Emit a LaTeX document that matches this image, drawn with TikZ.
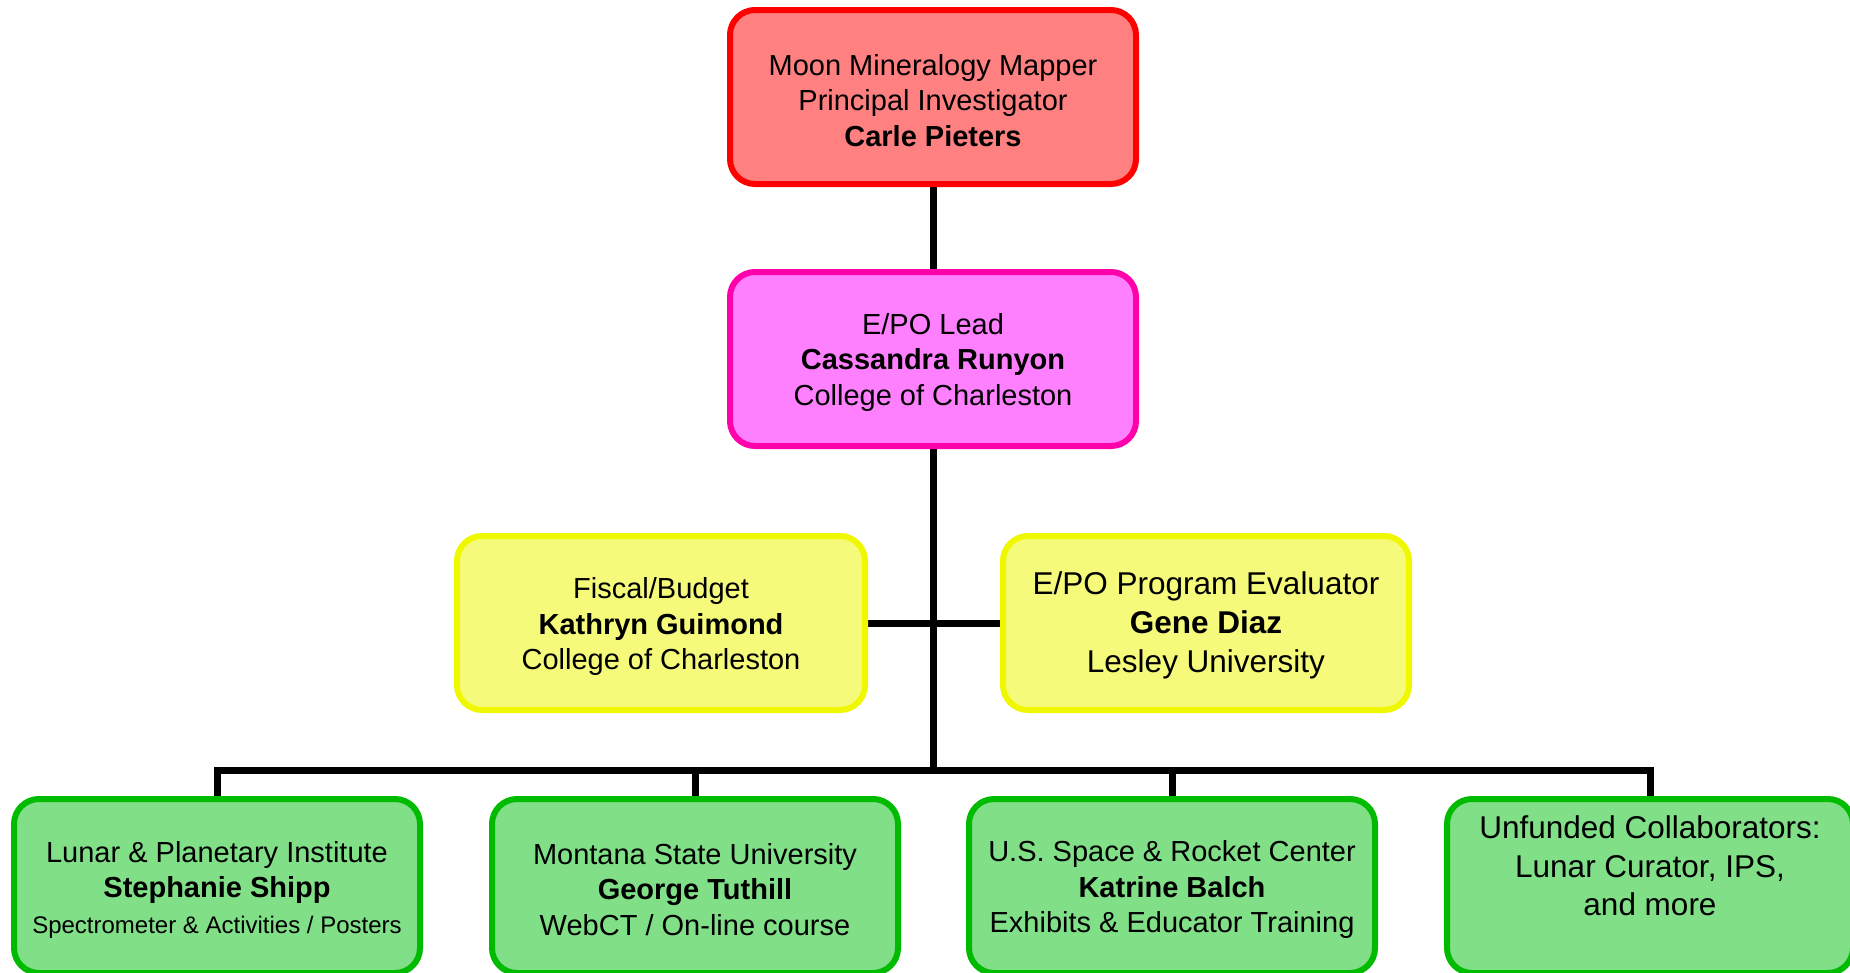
\documentclass[tikz,border=0pt]{standalone}
\usepackage{fontspec}
\setmainfont{Liberation Sans}
\usetikzlibrary{positioning, backgrounds}

\definecolor{pifill}{HTML}{FF8080}
\definecolor{piline}{HTML}{FF0000}
\definecolor{leadfill}{HTML}{FF80FF}
\definecolor{leadline}{HTML}{FF00AA}
\definecolor{yelfill}{HTML}{F5FA7A}
\definecolor{yelline}{HTML}{F0F800}
\definecolor{grnfill}{HTML}{80DF87}
\definecolor{grnline}{HTML}{00BB00}

\newcommand{\topstrut}{\rule{0pt}{28pt}}

\begin{document}
\begin{tikzpicture}[x=1pt, y=-1pt,
    box/.style = {draw, line width=6pt, rounded corners=25pt, align=center,
                  minimum width=406pt, minimum height=174pt, inner sep=0pt,
                  font=\fontsize{29}{35.5}\selectfont},
    pibox/.style = {box, fill=pifill, draw=piline},
    leadbox/.style = {box, fill=leadfill, draw=leadline},
    yelbox/.style = {box, fill=yelfill, draw=yelline},
    grnbox/.style = {box, fill=grnfill, draw=grnline},
    conn/.style = {line width=7pt}]
    \useasboundingbox (0,0) rectangle (1850,972);

    \node[pibox] (pi) at (933,97) {\topstrut Moon Mineralogy Mapper\\Principal Investigator\\\textbf{Carle Pieters}};
    \node[leadbox] (lead) at (933,359) {\topstrut E/PO Lead\\\textbf{Cassandra Runyon}\\College of Charleston};

    \node[yelbox, minimum width=408pt] (fiscal) at (661,623) {\topstrut Fiscal/Budget\\\textbf{Kathryn Guimond}\\College of Charleston};
    \node[yelbox, font=\fontsize{31.5}{39}\selectfont] (evaluator) at (1206,623) {\topstrut E/PO Program Evaluator\\\textbf{Gene Diaz}\\Lesley University};

    \node[grnbox] (lpi) at (217,886) {\topstrut Lunar \& Planetary Institute\\\textbf{Stephanie Shipp}\\{\fontsize{24}{30}\selectfont Spectrometer \& Activities / Posters}};
    \node[grnbox] (msu) at (695,886) {\topstrut Montana State University\\\textbf{George Tuthill}\\WebCT / On-line course};
    \node[grnbox] (ussrc) at (1172,886) {\topstrut U.S. Space \& Rocket Center\\\textbf{Katrine Balch}\\Exhibits \& Educator Training};
    \node[grnbox, font=\fontsize{31.5}{38.5}\selectfont] (unfunded) at (1650,886) {\topstrut Unfunded Collaborators:\\Lunar Curator, IPS,\\and more\\[7pt]\mbox{}};

    \coordinate (bar) at (933,770);

    \begin{scope}[on background layer]
    \draw[conn] (pi) -- (lead);
    \draw[conn] (lead) -- (bar);
    \draw[conn] (fiscal) -- (evaluator);
    \draw[conn] (lpi.north) |- (bar) -| (unfunded.north);
    \draw[conn] (msu.north) -- (msu |- bar);
    \draw[conn] (ussrc.north) -- (ussrc |- bar);
    \end{scope}

\end{tikzpicture}
\end{document}
